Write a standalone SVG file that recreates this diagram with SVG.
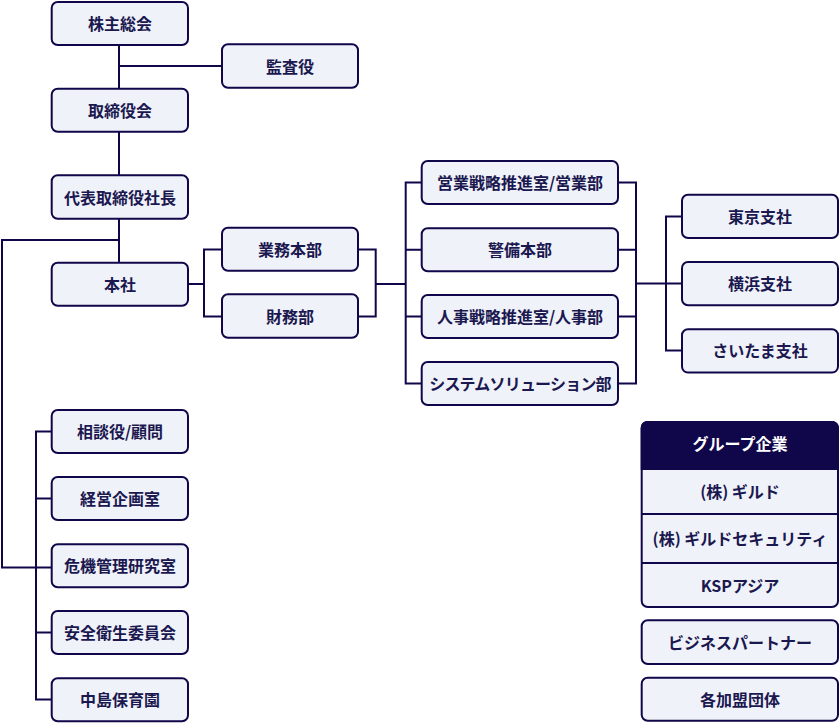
<svg xmlns="http://www.w3.org/2000/svg" width="840" height="723" viewBox="0 0 840 723">
<style>
.box{fill:#eff2f8;stroke:#10064a;stroke-width:2}
.t{font-family:"Noto Sans CJK JP","Noto Sans",sans-serif;font-weight:700;font-size:16px;fill:#1b1850;text-anchor:middle}
.w{fill:#ffffff}
.ln{fill:none;stroke:#10064a;stroke-width:2}
</style>
<rect width="840" height="723" fill="#ffffff"/>
<g id="connectors">
<path class="ln" d="M119,45 V88"/>
<path class="ln" d="M119,66 H221"/>
<path class="ln" d="M119,132 V175"/>
<path class="ln" d="M119,219 V263"/>
<path class="ln" d="M119,240 H2 V567.5 H51"/>
<path class="ln" d="M51,431.5 H36 V699.5 H51 M36,498.5 H51 M36,632.5 H51"/>
<path class="ln" d="M189,284 H204 M221,249.5 H204 V316.5 H221"/>
<path class="ln" d="M359,249.5 H375.7 V316.5 H359 M375.7,284 H405.7"/>
<path class="ln" d="M421,182.5 H405.7 V383.5 H421 M405.7,249.8 H421 M405.7,316.5 H421"/>
<path class="ln" d="M619,182.5 H636 V383.5 H619 M636,249.8 H619 M636,316.5 H619 M636,283.5 H666"/>
<path class="ln" d="M681,216.5 H666 V350.5 H681 M666,283.5 H681"/>
</g>
<g id="n-kabunushi"><rect class="box" x="51.7" y="2" width="136.3" height="43" rx="6"/><text class="t" x="120" y="30">株主総会</text></g>
<g id="n-kansayaku"><rect class="box" x="222" y="44.3" width="136" height="43.5" rx="6"/><text class="t" x="290" y="72.5">監査役</text></g>
<g id="n-torishimariyakukai"><rect class="box" x="51.7" y="88.7" width="136.3" height="43" rx="6"/><text class="t" x="120" y="116.7">取締役会</text></g>
<g id="n-shacho"><rect class="box" x="51.7" y="175.3" width="136.3" height="43.5" rx="6"/><text class="t" x="120" y="203.5">代表取締役社長</text></g>
<g id="n-honsha"><rect class="box" x="51.7" y="262.7" width="136.3" height="43" rx="6"/><text class="t" x="120" y="290.5">本社</text></g>
<g id="n-gyomuhonbu"><rect class="box" x="222" y="227.7" width="136" height="43" rx="6"/><text class="t" x="290" y="255.7">業務本部</text></g>
<g id="n-zaimubu"><rect class="box" x="222" y="294.3" width="136" height="43.5" rx="6"/><text class="t" x="290" y="322.5">財務部</text></g>
<g id="n-eigyo"><rect class="box" x="421.7" y="161" width="196.3" height="43" rx="6"/><text class="t" x="520" y="189">営業戦略推進室/営業部</text></g>
<g id="n-keibi"><rect class="box" x="421.7" y="228.3" width="196.3" height="43" rx="6"/><text class="t" x="520" y="256.3">警備本部</text></g>
<g id="n-jinji"><rect class="box" x="421.7" y="295" width="196.3" height="43" rx="6"/><text class="t" x="520" y="323">人事戦略推進室/人事部</text></g>
<g id="n-system"><rect class="box" x="421.7" y="362" width="196.3" height="43" rx="6"/><text class="t" x="520" y="390" letter-spacing="-0.8">システムソリューション部</text></g>
<g id="n-tokyo"><rect class="box" x="682" y="194.7" width="156" height="43.3" rx="6"/><text class="t" x="760" y="222.8">東京支社</text></g>
<g id="n-yokohama"><rect class="box" x="682" y="262" width="156" height="43.3" rx="6"/><text class="t" x="760" y="290">横浜支社</text></g>
<g id="n-saitama"><rect class="box" x="682" y="329.3" width="156" height="43.3" rx="6"/><text class="t" x="760" y="357.3">さいたま支社</text></g>
<g id="n-sodanyaku"><rect class="box" x="51.7" y="410" width="136.3" height="43" rx="6"/><text class="t" x="120" y="438">相談役/顧問</text></g>
<g id="n-keiei"><rect class="box" x="51.7" y="477" width="136.3" height="43" rx="6"/><text class="t" x="120" y="505">経営企画室</text></g>
<g id="n-kiki"><rect class="box" x="51.7" y="544.3" width="136.3" height="43" rx="6"/><text class="t" x="120" y="572.3">危機管理研究室</text></g>
<g id="n-anzen"><rect class="box" x="51.7" y="611" width="136.3" height="43" rx="6"/><text class="t" x="120" y="639">安全衛生委員会</text></g>
<g id="n-nakajima"><rect class="box" x="51.7" y="678.3" width="136.3" height="43" rx="6"/><text class="t" x="120" y="706.3">中島保育園</text></g>
<g id="n-group">
<rect class="box" x="641.7" y="422" width="196.3" height="185" rx="6"/>
<path d="M647.7,421 H832 A7,7 0 0 1 839,428 V470 H640.7 V427.7 A6.7,6.7 0 0 1 647.7,421 Z" fill="#10064a"/>
<path class="ln" d="M641,514 H839 M641,563 H839"/>
<text class="t w" x="740" y="450">グループ企業</text>
<text class="t" x="740" y="498">(株) ギルド</text>
<text class="t" x="740" y="544.5">(株) ギルドセキュリティ</text>
<text class="t" x="740" y="592">KSPアジア</text>
</g>
<g id="n-partner"><rect class="box" x="641.7" y="620.3" width="196.3" height="43.7" rx="6"/><text class="t" x="740" y="648.5">ビジネスパートナー</text></g>
<g id="n-kamei"><rect class="box" x="641.7" y="677.7" width="196.3" height="43" rx="6"/><text class="t" x="740" y="705.7">各加盟団体</text></g>
</svg>
